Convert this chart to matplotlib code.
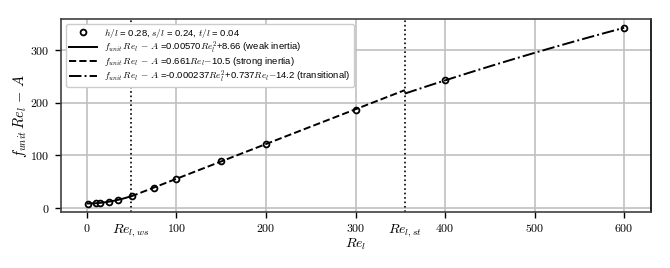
import numpy as np
import matplotlib
matplotlib.use("Agg")
import matplotlib.pyplot as plt
from matplotlib.ticker import FuncFormatter

plt.rcParams['mathtext.fontset'] = 'cm'
plt.rcParams['font.family'] = ['Liberation Sans', 'DejaVu Sans']

# data
re_l = [1, 10, 15, 25, 35, 50, 75, 100, 150, 200, 300, 400, 600]
f_re_minus_a = [8.6, 9.2, 9.9, 12.2, 15.8, 22.9, 39.0, 55.5, 88.5, 121.8, 186.0, 242.5, 342.5]

# fit coefficients (from legend)
weak = [0.00570, 0.0, 8.66]
strong = [0.661, -10.5]
trans = [-0.000237, 0.737, -14.2]
re_ws = 49
re_st = 355

fig = plt.figure(figsize=(6.7, 2.68), dpi=100)
ax = fig.add_axes([61/670, 1 - 212.3/268, 590/670, (212.3-19)/268])

ax.plot(re_l, f_re_minus_a, 'o', mfc='white', mec='black', ms=4.2, mew=1.3,
        zorder=2, label=r'$h/l$ = 0.28, $s/l$ = 0.24, $t/l$ = 0.04')

x1 = np.linspace(min(re_l), re_ws, 100)
ax.plot(x1, np.polyval(weak, x1), '-', color='black', lw=1.4, zorder=3,
        label=r'$f_{unit}\,Re_l\,-\,A$ =0.00570$Re_l^2$+8.66 (weak inertia)')
x2 = np.linspace(re_ws, re_st, 100)
ax.plot(x2, np.polyval(strong, x2), '--', color='black', lw=1.4, zorder=3,
        label=r'$f_{unit}\,Re_l\,-\,A$ =0.661$Re_l$$-$10.5 (strong inertia)')
x3 = np.linspace(re_st, max(re_l), 100)
ax.plot(x3, np.polyval(trans, x3), '-.', color='black', lw=1.4, zorder=3,
        label=r'$f_{unit}\,Re_l\,-\,A$ =-0.000237$Re_l^2$+0.737$Re_l$$-$14.2 (transitional)')

ax.axvline(re_ws, color='black', ls=':', lw=1.2, zorder=1)
ax.axvline(re_st, color='black', ls=':', lw=1.2, zorder=1)

ax.set_xticks([0, 100, 200, 300, 400, 500, 600])
ax.set_yticks([0, 100, 200, 300])
fmt = FuncFormatter(lambda v, p: r'$%d$' % v)
ax.xaxis.set_major_formatter(fmt)
ax.yaxis.set_major_formatter(fmt)
ax.tick_params(labelsize=8.6, direction='out', length=4, width=1, pad=4)
ax.grid(True, color='#c0c0c0', lw=1.2, zorder=0)
ax.set_axisbelow(True)
for s in ax.spines.values():
    s.set_linewidth(1.2)
ax.spines['left'].set_color('#404040')
ax.spines['bottom'].set_color('#404040')
ax.spines['top'].set_color('#404040')

ax.set_xlabel(r'$Re_l$', fontsize=10, labelpad=1)
ax.set_ylabel(r'$f_{unit}\,Re_l\,-\,A$', fontsize=10.5, labelpad=1)

ax.text(re_ws, -0.05, r'$Re_{l,ws}$', transform=ax.get_xaxis_transform(),
        ha='center', va='top', fontsize=10)
ax.text(re_st, -0.05, r'$Re_{l,st}$', transform=ax.get_xaxis_transform(),
        ha='center', va='top', fontsize=10)

ax.margins(x=0.05, y=0.05)

leg = ax.legend(loc='upper left', prop={'size': 6.8}, frameon=True, fancybox=True,
                edgecolor='#cccccc', framealpha=1, handlelength=3.0,
                borderpad=0.3, labelspacing=0.0, handletextpad=0.8,
                borderaxespad=0.5)

fig.savefig('out.png', dpi=100)
